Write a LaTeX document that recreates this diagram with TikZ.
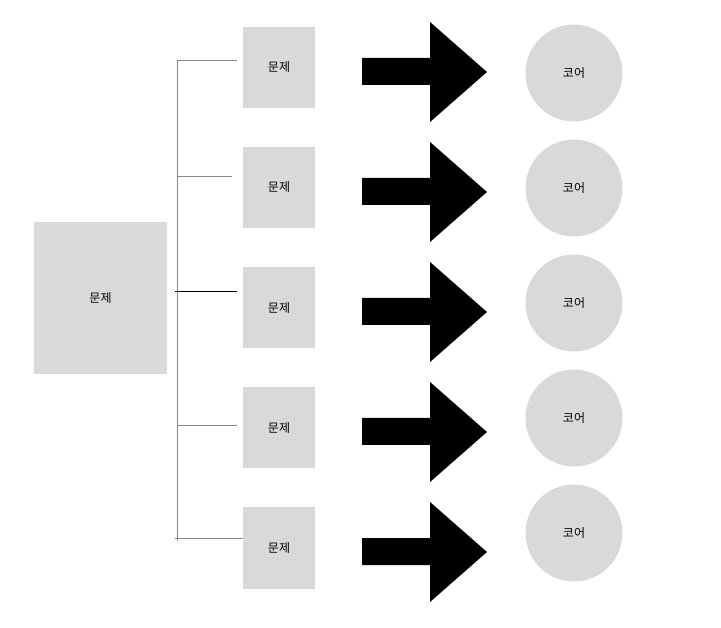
\documentclass[tikz,border=0pt]{standalone}
\usepackage{fontspec}
\setmainfont{Noto Sans CJK KR}
\begin{document}
\begin{tikzpicture}[x=1pt,y=-1pt,
  box/.style={fill=boxgray,draw=none,inner sep=0pt,font=\fontsize{12}{14}\selectfont},
  core/.style={circle,fill=boxgray,draw=none,minimum size=97pt,inner sep=0pt,font=\fontsize{12}{14}\selectfont},
  link/.style={draw=linegray,line width=0.8pt},
  bigarrow/.style={fill=black,draw=none}]
\definecolor{boxgray}{HTML}{D9D9D9}
\definecolor{linegray}{HTML}{888888}
\useasboundingbox (0,0) rectangle (721,628);
\node[box,minimum width=133pt,minimum height=152pt] (main) at (100.5,298) {문제};
\foreach \i/\y/\cy in {1/67.5/73,2/187.5/188,3/308/303,4/428/418,5/548/533}{
  \node[box,minimum width=72pt,minimum height=81pt] (p\i) at (279,\y) {문제};
  \node[core] (c\i) at (574,\cy) {코어};
}
\coordinate (vt) at (177,60);
\coordinate (vb) at (177,541);
\draw[link] (vt) -- (vb);
\coordinate (h1a) at (178,60);  \coordinate (h1b) at (237,60);
\coordinate (h2a) at (178,176); \coordinate (h2b) at (232,176);
\coordinate (h3a) at (175,291); \coordinate (h3b) at (237,291);
\coordinate (h4a) at (177,425); \coordinate (h4b) at (237,425);
\coordinate (h5a) at (175,538); \coordinate (h5b) at (243,538);
\draw[link] (h1a) -- (h1b);
\draw[link] (h2a) -- (h2b);
\draw[draw=black,line width=0.9pt] (h3a) -- (h3b);
\draw[link] (h4a) -- (h4b);
\draw[link] (h5a) -- (h5b);
\foreach \y in {72,192,312,432,552}{
  \fill[black] (362,\y-14) -- (430,\y-14) -- (430,\y-50) -- (487,\y) -- (430,\y+50) -- (430,\y+13) -- (362,\y+13) -- cycle;
}
\end{tikzpicture}
\end{document}
